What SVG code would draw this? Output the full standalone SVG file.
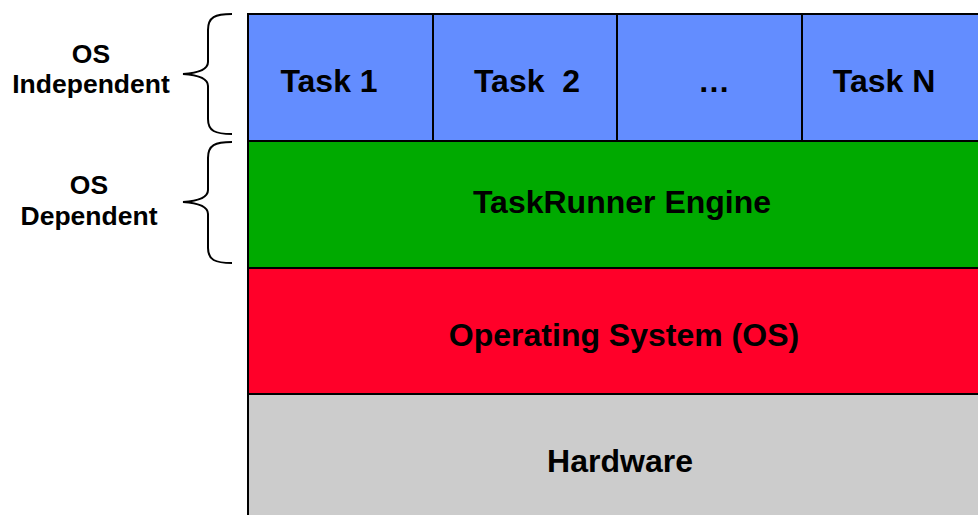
<svg xmlns="http://www.w3.org/2000/svg" width="978" height="515" viewBox="0 0 978 515">
  <style>
    .lbl { font-family: "Liberation Sans", Arial, sans-serif; font-weight: bold; fill: #000; text-anchor: middle; }
    .big { font-size: 32px; }
    .side { font-size: 26.5px; }
    .cell { stroke: #000; stroke-width: 2; }
    .brace { fill: none; stroke: #000; stroke-width: 2; }
  </style>
  <rect width="978" height="515" fill="#fff"/>

  <!-- layer stack -->
  <g id="hardware">
    <rect class="cell" x="248" y="394" width="740" height="130" fill="#cccccc"/>
    <text class="lbl big" x="620" y="472">Hardware</text>
  </g>
  <g id="os">
    <rect class="cell" x="248" y="268" width="740" height="126" fill="#ff0029"/>
    <text class="lbl big" x="624" y="346">Operating System (OS)</text>
  </g>
  <g id="engine">
    <rect class="cell" x="248" y="141" width="740" height="127" fill="#00aa00"/>
    <text class="lbl big" x="622" y="213">TaskRunner Engine</text>
  </g>
  <g id="task1">
    <rect class="cell" x="248" y="14" width="185" height="127" fill="#638dff"/>
    <text class="lbl big" x="329" y="92">Task 1</text>
  </g>
  <g id="task2">
    <rect class="cell" x="433" y="14" width="184" height="127" fill="#638dff"/>
    <text class="lbl big" x="527" y="92" xml:space="preserve">Task  2</text>
  </g>
  <g id="taskdots">
    <rect class="cell" x="617" y="14" width="185" height="127" fill="#638dff"/>
    <text class="lbl big" x="714" y="92">…</text>
  </g>
  <g id="taskN">
    <rect class="cell" x="802" y="14" width="186" height="127" fill="#638dff"/>
    <text class="lbl big" x="884" y="92">Task N</text>
  </g>

  <!-- side braces -->
  <g id="connectors">
    <path class="brace" d="M232,14 C215,14 208,17 208,30 L208,62 C208,70 198,73 183,74 C198,75 208,78 208,86 L208,119 C208,131 215,134 232,134"/>
    <path class="brace" d="M232,142 C215,142 208,145 208,158 L208,190 C208,198 198,201 183,202 C198,203 208,206 208,214 L208,248 C208,260 215,263 232,263"/>
  </g>

  <g id="label-independent">
    <text class="lbl side" x="91" y="63">OS</text>
    <text class="lbl side" x="91" y="93">Independent</text>
  </g>
  <g id="label-dependent">
    <text class="lbl side" x="89" y="194">OS</text>
    <text class="lbl side" x="89" y="225">Dependent</text>
  </g>
</svg>
